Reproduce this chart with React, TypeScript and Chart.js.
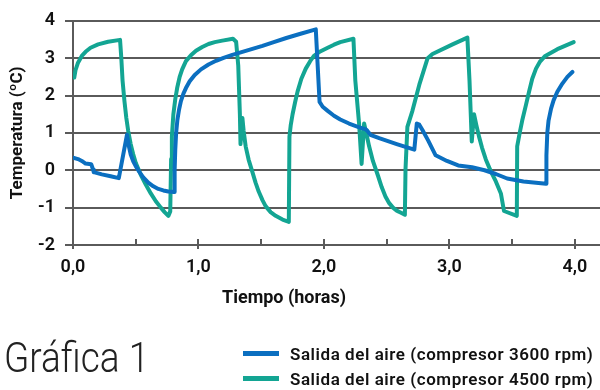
import React, { useEffect, useRef } from "react";
import { Chart, registerables } from "chart.js";

Chart.register(...registerables);

const seriesLabels = [
  "Salida del aire (compresor 3600 rpm)",
  "Salida del aire (compresor 4500 rpm)",
];
const seriesColors = ["#0B6FC0", "#13A593"];

const xTickValues = [0, 1, 2, 3, 4];
const minorTickValues = [0, 0.5, 1, 1.5, 2, 2.5, 3, 3.5, 4];

// Serie 3600 rpm (azul)
const blueX = [
  0.0, 0.04, 0.07, 0.1, 0.145, 0.16, 0.165, 0.23, 0.3, 0.365, 0.43, 0.445,
  0.46, 0.48, 0.5, 0.53, 0.56, 0.6, 0.64, 0.68, 0.72, 0.76, 0.805, 0.81,
  0.815, 0.822, 0.832, 0.845, 0.86, 0.88, 0.9, 0.93, 0.97, 1.02, 1.08, 1.14,
  1.2, 1.27, 1.35, 1.43, 1.51, 1.6, 1.7, 1.8, 1.935, 1.965, 1.99, 2.03, 2.08,
  2.13, 2.2, 2.265, 2.3, 2.33, 2.345, 2.37, 2.44, 2.58, 2.72, 2.74, 2.76,
  2.786, 2.83, 2.89, 2.98, 3.07, 3.18, 3.28, 3.37, 3.46, 3.59, 3.77, 3.773,
  3.78, 3.79, 3.81, 3.83, 3.86, 3.9, 3.94, 3.98,
];
const blueY = [
  0.34, 0.3, 0.25, 0.18, 0.16, 0.02, -0.05, -0.11, -0.16, -0.21, 0.95, 0.65,
  0.42, 0.24, 0.11, -0.05, -0.19, -0.33, -0.43, -0.5, -0.54, -0.57, -0.58, 0.0,
  0.55, 1.0, 1.35, 1.62, 1.85, 2.05, 2.2, 2.38, 2.55, 2.7, 2.83, 2.93,
  3.01, 3.09, 3.17, 3.25, 3.33, 3.43, 3.54, 3.64, 3.77, 1.83, 1.7, 1.59, 1.46,
  1.36, 1.25, 1.17, 1.13, 1.1, 1.06, 0.95, 0.86, 0.7, 0.55, 1.25, 1.22,
  1.07, 0.8, 0.4, 0.25, 0.13, 0.08, 0.0, -0.1, -0.22, -0.3, -0.36, 0.4,
  1.0, 1.33, 1.65, 1.87, 2.1, 2.32, 2.5, 2.63,
];

// Serie 4500 rpm (verde)
const tealX = [
  0.01, 0.02, 0.04, 0.07, 0.1, 0.14, 0.2, 0.28, 0.375, 0.385, 0.395, 0.41,
  0.425, 0.44, 0.46, 0.48, 0.5, 0.54, 0.58, 0.62, 0.66, 0.7, 0.73, 0.76,
  0.775, 0.782, 0.788, 0.8, 0.815, 0.83, 0.85, 0.87, 0.9, 0.94, 0.98, 1.03,
  1.08, 1.13, 1.19, 1.275, 1.3, 1.317, 1.33, 1.335, 1.35, 1.36, 1.376, 1.4,
  1.43, 1.455, 1.48, 1.51, 1.535, 1.575, 1.615, 1.67, 1.72, 1.725, 1.735,
  1.75, 1.77, 1.79, 1.82, 1.855, 1.89, 1.92, 1.97, 2.03, 2.08, 2.13, 2.235,
  2.25, 2.28, 2.3, 2.32, 2.34, 2.36, 2.39, 2.43, 2.46, 2.49, 2.52, 2.55,
  2.58, 2.61, 2.645, 2.65, 2.665, 2.705, 2.76, 2.825, 2.865, 3.025, 3.143,
  3.16, 3.17, 3.178, 3.196, 3.215, 3.236, 3.26, 3.29, 3.33, 3.37, 3.41,
  3.435, 3.537, 3.54, 3.56, 3.58, 3.61, 3.635, 3.66, 3.69, 3.72, 3.76, 3.86,
  3.99,
];
const tealY = [
  2.48, 2.68, 2.88, 3.06, 3.17, 3.28, 3.37, 3.44, 3.49, 3.0, 2.4, 1.85,
  1.4, 1.05, 0.7, 0.43, 0.2, -0.12, -0.38, -0.62, -0.83, -1.0, -1.12, -1.22,
  -1.1, 0.3, 0.9, 1.5, 1.9, 2.2, 2.5, 2.7, 2.92, 3.08, 3.2, 3.3,
  3.38, 3.43, 3.47, 3.52, 3.44, 2.8, 1.5, 0.7, 1.4, 1.05, 0.64, 0.28,
  -0.05, -0.33, -0.57, -0.8, -0.96, -1.12, -1.22, -1.32, -1.38, 0.9, 1.2,
  1.5, 1.82, 2.11, 2.45, 2.72, 2.92, 3.06, 3.18, 3.28, 3.36, 3.43, 3.52,
  2.4, 1.25, 0.17, 1.25, 0.95, 0.64, 0.25, -0.14, -0.45, -0.7, -0.88, -1.0,
  -1.08, -1.13, -1.19, 0.03, 1.16, 1.59, 2.29, 2.99, 3.11, 3.37, 3.55,
  2.4, 1.5, 0.77, 1.5, 1.2, 0.9, 0.6, 0.29, -0.03, -0.3, -0.62,
  -1.09, -1.22, 0.64, 1.0, 1.33, 1.75, 2.11, 2.45, 2.72, 2.9, 3.05, 3.24,
  3.43,
];

const FONT = "Roboto, 'Open Sans', 'DejaVu Sans', sans-serif";
const GRID = "#5a5a5a";

const toPoints = (xs: number[], ys: number[]) =>
  xs.map((x, i) => ({ x, y: ys[i] }));

export default function App() {
  const canvasRef = useRef<HTMLCanvasElement | null>(null);

  useEffect(() => {
    document.body.style.margin = "0";
    const canvas = canvasRef.current;
    if (!canvas) return;

    const tickPlugin = {
      id: "minorTicks",
      afterDraw(chart: any) {
        const { ctx, scales } = chart;
        const xs = scales.x;
        const bottom = chart.chartArea.bottom;
        ctx.save();
        ctx.strokeStyle = GRID;
        ctx.lineWidth = 2;
        minorTickValues.forEach((v) => {
          const px = Math.round(xs.getPixelForValue(v));
          ctx.beginPath();
          ctx.moveTo(px, bottom - 6);
          ctx.lineTo(px, bottom);
          ctx.stroke();
        });
        ctx.restore();
      },
    };

    const common = {
      borderWidth: 4,
      pointRadius: 0,
      tension: 0,
      borderJoinStyle: "round",
      borderCapStyle: "round",
    };

    const chart = new Chart(canvas, {
      type: "line",
      data: {
        datasets: [
          {
            ...common,
            label: seriesLabels[0],
            data: toPoints(blueX, blueY),
            borderColor: seriesColors[0],
            backgroundColor: seriesColors[0],
          },
          {
            ...common,
            label: seriesLabels[1],
            data: toPoints(tealX, tealY),
            borderColor: seriesColors[1],
            backgroundColor: seriesColors[1],
          },
        ],
      } as any,
      options: {
        animation: false,
        responsive: false,
        maintainAspectRatio: false,
        layout: { padding: { top: 14, right: 0, bottom: 0, left: 0 } },
        plugins: {
          legend: { display: false },
          tooltip: { enabled: false },
        },
        scales: {
          x: {
            type: "linear",
            min: 0,
            max: 4.2,
            afterBuildTicks: (scale: any) => {
              scale.ticks = xTickValues.map((v) => ({ value: v }));
            },
            afterFit: (scale: any) => {
              scale.height = 145;
            },
            grid: {
              drawOnChartArea: false,
              drawTicks: true,
              tickLength: 4,
              color: GRID,
              lineWidth: 2,
            },
            border: { display: true, color: GRID, width: 2 },
            ticks: {
              padding: 8,
              color: "#111",
              font: { family: FONT, size: 18, weight: "600" },
              callback: (v: any) => Number(v).toFixed(1).replace(".", ","),
            },
          },
          y: {
            min: -2,
            max: 4,
            afterFit: (scale: any) => {
              scale.width = 73;
            },
            grid: {
              color: GRID,
              lineWidth: 2,
              tickLength: 8,
              drawTicks: true,
            },
            border: { display: true, color: GRID, width: 2 },
            ticks: {
              stepSize: 1,
              padding: 10,
              color: "#111",
              font: { family: FONT, size: 18, weight: "600" },
            },
            title: {
              display: true,
              text: "Temperatura (ºC)",
              color: "#111",
              padding: { top: 8, bottom: 0 },
              font: { family: FONT, size: 17, weight: "bold" },
            },
          },
        },
      } as any,
      plugins: [tickPlugin],
    });

    return () => chart.destroy();
  }, []);

  return (
    <div style={{ position: "relative", width: 600, height: 390, fontFamily: FONT }}>
      <canvas ref={canvasRef} width={600} height={390} style={{ display: "block" }} />
      <div
        style={{
          position: "absolute",
          left: 222,
          top: 286,
          fontSize: 18,
          fontWeight: "bold",
          color: "#111",
          whiteSpace: "nowrap",
        }}
      >
        Tiempo (horas)
      </div>
      <div
        style={{
          position: "absolute",
          left: 4,
          top: 332,
          fontSize: 43,
          fontWeight: 300,
          color: "#222",
          whiteSpace: "nowrap",
          transform: "scaleX(0.86)",
          transformOrigin: "left top",
        }}
      >
        Gráfica 1
      </div>
      <div style={{ position: "absolute", left: 243, top: 341 }}>
        {seriesLabels.map((lab, i) => (
          <div
            key={lab}
            style={{ display: "flex", alignItems: "center", height: 25 }}
          >
            <span
              style={{
                display: "inline-block",
                width: 36,
                height: 5,
                background: seriesColors[i],
                marginRight: 11,
              }}
            />
            <span
              style={{
                fontSize: 17,
                fontWeight: 600,
                color: "#111",
                whiteSpace: "nowrap",
                letterSpacing: 0.55,
              }}
            >
              {lab}
            </span>
          </div>
        ))}
      </div>
    </div>
  );
}
